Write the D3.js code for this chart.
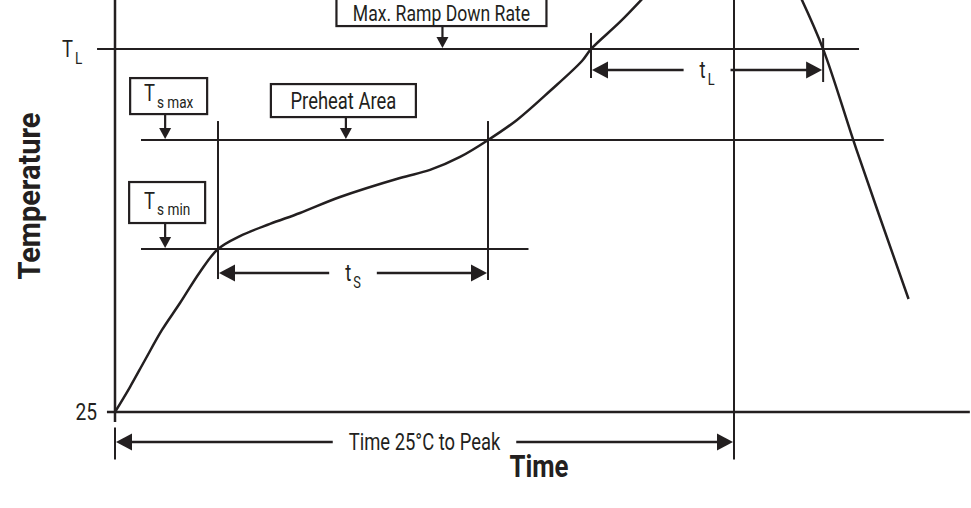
<!DOCTYPE html>
<html>
<head>
<meta charset="utf-8">
<script src="https://cdn.jsdelivr.net/npm/d3@7"></script>
<style>
  body { margin: 0; background: #fff; }
  text { font-family: Roboto, "Liberation Sans", sans-serif; fill: #231f20; }
</style>
</head>
<body>
<svg id="chart" width="971" height="508"></svg>
<script>
// Profile curve (arbitrary time units, temperature units)
const riseTime = [0, 2.42, 4.85, 7.59, 10.5, 13.73, 16.64, 20.19, 25.04, 29.89, 36.35, 46.04, 50.89, 55.74, 60.26, 64.94, 70.27, 75.44, 76.9, 81.58, 85.62];
const riseTemp = [25, 38.65, 53.4, 69.8, 84.5, 101.5, 114.0, 121.1, 127.7, 133.7, 142.4, 152.8, 157.2, 164.3, 173.5, 184.5, 200.3, 216.7, 223.2, 238.0, 252.2];
const fallTime = [110.6, 114.4, 119.8, 128.2];
const fallTemp = [252.7, 223.2, 168.1, 86.7];

// Horizontal reference levels
const levelNames = ["TL", "Ts max", "Ts min", "25"];
const levelTemps = [223.2, 173.5, 114.0, 25];
const levelFrom = [-2.9, 4.2, 4.2, -1.3];
const levelTo = [120.2, 124.2, 66.8, 138.1];

// Vertical markers
const markerTime = [16.64, 60.26, 76.9, 114.4, 0, 100];
const markerTop = [183.9, 183.9, 232.0, 229.2, 16.5, 260];
const markerBottom = [97.6, 97.1, 207.4, 205.2, -1.0, -1.0];

// Time spans (double arrows)
const spanLabels = ["t|S", "t|L", "Time 25°C to Peak"];
const spanStart = [16.64, 76.9, 0];
const spanEnd = [60.26, 114.4, 100];
const spanTemp = [100.9, 211.8, 8.6];

// Callout boxes pointing at levels
const calloutLabels = ["Max. Ramp Down Rate", "Preheat Area", "T|s max", "T|s min"];
const calloutTime = [52.9, 37.3, 8.1, 8.1];
const calloutTemp = [223.2, 173.5, 173.5, 114.0];

const width = 971, height = 508;
const svg = d3.select("#chart");
const ink = "#231f20";
const squeeze = 0.8; // condensed look

const x = d3.scaleLinear().domain([0, 100]).range([115, 734]);
const y = d3.scaleLinear().domain([25, 250]).range([412, 0]);

// one condensed text piece, returns its width
function piece(g, px, py, str, size) {
  const t = g.append("text")
    .attr("x", px).attr("y", py)
    .style("font-size", size + "px")
    .text(str);
  const w = t.node().getComputedTextLength() * squeeze;
  t.attr("textLength", w).attr("lengthAdjust", "spacingAndGlyphs");
  return w;
}

// writes "base|sub" as condensed text with a subscript; returns drawn width
function condLabel(parent, px, py, label, size, subSize, anchor) {
  const g = parent.append("g");
  const parts = label.split("|");
  let w = piece(g, 0, 0, parts[0], size);
  if (parts.length > 1) {
    w += 2;
    w += piece(g, w, size * 0.3, parts[1], subSize);
  }
  const shift = anchor === "end" ? -w : anchor === "start" ? 0 : -w / 2;
  g.attr("transform", `translate(${px + shift},${py})`);
  return w;
}

// Level lines
levelTemps.forEach((t, i) => {
  svg.append("line")
    .attr("x1", x(levelFrom[i])).attr("x2", x(levelTo[i]))
    .attr("y1", y(t)).attr("y2", y(t))
    .attr("stroke", ink).attr("stroke-width", i === 3 ? 2.5 : 2);
});

// Y axis line
svg.append("line")
  .attr("x1", x(0)).attr("x2", x(0))
  .attr("y1", 0).attr("y2", y(25) + 10)
  .attr("stroke", ink).attr("stroke-width", 2.5);

// Vertical markers
markerTime.forEach((t, i) => {
  svg.append("line")
    .attr("x1", x(t)).attr("x2", x(t))
    .attr("y1", i === 5 ? 0 : y(markerTop[i]))
    .attr("y2", y(markerBottom[i]))
    .attr("stroke", ink).attr("stroke-width", 2);
});

// Profile curve
const line = d3.line()
  .x(d => x(d[0])).y(d => y(d[1]))
  .curve(d3.curveCatmullRom.alpha(0.5));

svg.append("path")
  .datum(riseTime.map((t, i) => [t, riseTemp[i]]))
  .attr("d", line)
  .attr("fill", "none").attr("stroke", ink).attr("stroke-width", 2.5);

svg.append("path")
  .datum(fallTime.map((t, i) => [t, fallTemp[i]]))
  .attr("d", line)
  .attr("fill", "none").attr("stroke", ink).attr("stroke-width", 2.5);

// Double arrows with a gap for the label
const headLen = 16, headHalf = 8.5;
spanLabels.forEach((lab, i) => {
  const x1 = x(spanStart[i]), x2 = x(spanEnd[i]), yy = y(spanTemp[i]);
  const mid = (x1 + x2) / 2;
  const w = condLabel(svg, mid, yy + 8, lab, 23, 16, "middle");
  const gap = 16;
  svg.append("line")
    .attr("x1", x1 + headLen - 2).attr("x2", mid - w / 2 - gap)
    .attr("y1", yy).attr("y2", yy)
    .attr("stroke", ink).attr("stroke-width", 2.5);
  svg.append("line")
    .attr("x1", mid + w / 2 + gap).attr("x2", x2 - headLen + 2)
    .attr("y1", yy).attr("y2", yy)
    .attr("stroke", ink).attr("stroke-width", 2.5);
  svg.append("path")
    .attr("d", `M${x1 + 1},${yy}L${x1 + 1 + headLen},${yy - headHalf}L${x1 + 1 + headLen},${yy + headHalf}Z`)
    .attr("fill", ink);
  svg.append("path")
    .attr("d", `M${x2 - 1},${yy}L${x2 - 1 - headLen},${yy - headHalf}L${x2 - 1 - headLen},${yy + headHalf}Z`)
    .attr("fill", ink);
});

// Callout boxes (pixel box sizes, offsets from the arrow)
const boxW = [210, 145, 77, 76];
const boxH = [40, 33, 36, 41];
const boxShift = [-1, -2.5, 3.5, 2];
const boxGap = [23, 23, 26, 26];
const textDrop = [-6, 8, 5, 6];
calloutLabels.forEach((lab, i) => {
  const ax = x(calloutTime[i]), ay = y(calloutTemp[i]);
  const bottom = ay - boxGap[i];
  const cx = ax + boxShift[i];
  svg.append("rect")
    .attr("x", cx - boxW[i] / 2).attr("y", bottom - boxH[i])
    .attr("width", boxW[i]).attr("height", boxH[i])
    .attr("fill", "#fff").attr("stroke", ink).attr("stroke-width", 2.2);
  svg.append("line")
    .attr("x1", ax).attr("x2", ax)
    .attr("y1", bottom).attr("y2", ay - 8)
    .attr("stroke", ink).attr("stroke-width", 2.2);
  svg.append("path")
    .attr("d", `M${ax},${ay - 1}L${ax - 6},${ay - 12}L${ax + 6},${ay - 12}Z`)
    .attr("fill", ink);
  if (i === 0) {
    condLabel(svg, cx, 20.5, lab, 22, 17, "middle");
  } else {
    condLabel(svg, cx, bottom - boxH[i] / 2 + textDrop[i], lab, 23, 17, "middle");
  }
});

// Y tick labels
condLabel(svg, 62, y(223.2) + 8, "T|L", 23, 17, "start");
condLabel(svg, 97, y(25) + 8, "25", 24, 17, "end");

// Axis titles
svg.append("text")
  .attr("transform", "translate(40,196) rotate(-90)")
  .attr("text-anchor", "middle")
  .attr("textLength", 167).attr("lengthAdjust", "spacingAndGlyphs")
  .style("font-size", "31px").style("font-weight", "bold")
  .text("Temperature");

svg.append("text")
  .attr("x", 539).attr("y", 477)
  .attr("text-anchor", "middle")
  .attr("textLength", 59).attr("lengthAdjust", "spacingAndGlyphs")
  .style("font-size", "31px").style("font-weight", "bold")
  .text("Time");
</script>
</body>
</html>
